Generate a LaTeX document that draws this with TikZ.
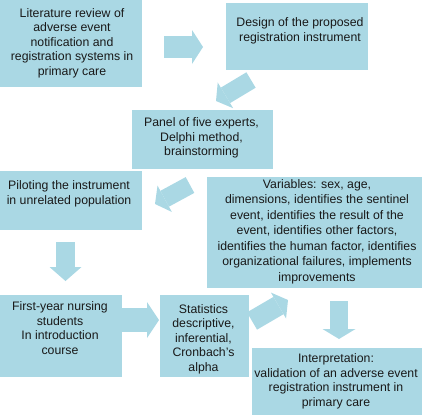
\documentclass[tikz,border=0pt]{standalone}
\usepackage{fontspec}
\setmainfont{Liberation Sans}
\usetikzlibrary{arrows.meta}
\definecolor{boxblue}{RGB}{170,216,228}
\definecolor{txt}{RGB}{25,25,25}
\begin{document}
\begin{tikzpicture}[x=1pt,y=-1pt,
  box/.style={fill=boxblue, draw=none, inner sep=0pt, outer sep=0pt},
  lbl/.style={align=center, text=txt, inner sep=0pt, font=\fontsize{12.3}{14.5}\selectfont},
  barrow/.style n args={3}{draw=boxblue, line width=#1, -{Triangle[width=#2, length=#3, line width=0pt]}}
]
\useasboundingbox (0,0) rectangle (422,415);
% boxes
\node[box, minimum width=142pt, minimum height=87pt] (lit) at (71,43.5) {};
\node[box, minimum width=142pt, minimum height=67pt] (design) at (297,36.5) {};
\node[box, minimum width=141pt, minimum height=59pt] (panel) at (202.5,139.5) {};
\node[box, minimum width=142pt, minimum height=59pt] (pilot) at (71,200.5) {};
\node[box, minimum width=215pt, minimum height=111pt] (vars) at (314.5,232.5) {};
\node[box, minimum width=122pt, minimum height=82pt] (first) at (61,336) {};
\node[box, minimum width=89pt, minimum height=82pt] (stats) at (204.5,336) {};
\node[box, minimum width=170pt, minimum height=67pt] (interp) at (337,381.5) {};
% texts
\node[lbl] (litT) at (72,43) {Literature review of\\adverse event\\notification and\\registration systems in\\primary care};
\node[lbl] (designT) at (300,31) {Design of the proposed\\registration instrument};
\node[lbl] (panelT) at (201.5,138) {Panel of five experts,\\Delphi method,\\brainstorming};
\node[lbl] (pilotT) at (69,194) {Piloting the instrument\\in unrelated population};
\node[lbl, font=\fontsize{12.3}{15.5}\selectfont] (varsT) at (317,231.5) {Variables: sex, age,\\dimensions, identifies the sentinel\\event, identifies the result of the\\event, identifies other factors,\\identifies the human factor, identifies\\organizational failures, implements\\improvements};
\node[lbl] (firstT) at (60,328) {First-year nursing\\students\\In introduction\\course};
\node[lbl] (statsT) at (203.5,339) {Statistics\\descriptive,\\inferential,\\Cronbach's\\alpha};
\node[lbl] (interpT) at (336,381.5) {Interpretation:\\validation of an adverse event\\registration instrument in\\primary care};
% arrow end points
\coordinate (a1s) at (164,47);   \coordinate (a1e) at (203,47);
\coordinate (a2s) at (251,80);   \coordinate (a2e) at (216,101);
\coordinate (a3s) at (190,185);  \coordinate (a3e) at (155,204);
\coordinate (a4s) at (65.5,242); \coordinate (a4e) at (65.5,281);
\coordinate (a5s) at (122,320);  \coordinate (a5e) at (159,320);
\coordinate (a6s) at (252,321);  \coordinate (a6e) at (288,300);
\coordinate (a7s) at (339,301);  \coordinate (a7e) at (339,339);
% arrows
\draw[barrow={22pt}{34pt}{11pt}] (a1s) -- (a1e);
\draw[barrow={18pt}{30pt}{11pt}] (a2s) -- (a2e);
\draw[barrow={18pt}{30pt}{11pt}] (a3s) -- (a3e);
\draw[barrow={19pt}{32pt}{14pt}] (a4s) -- (a4e);
\draw[barrow={24pt}{36pt}{12pt}] (a5s) -- (a5e);
\draw[barrow={20pt}{30pt}{11pt}] (a6s) -- (a6e);
\draw[barrow={18pt}{33pt}{10pt}] (a7s) -- (a7e);
\end{tikzpicture}
\end{document}
